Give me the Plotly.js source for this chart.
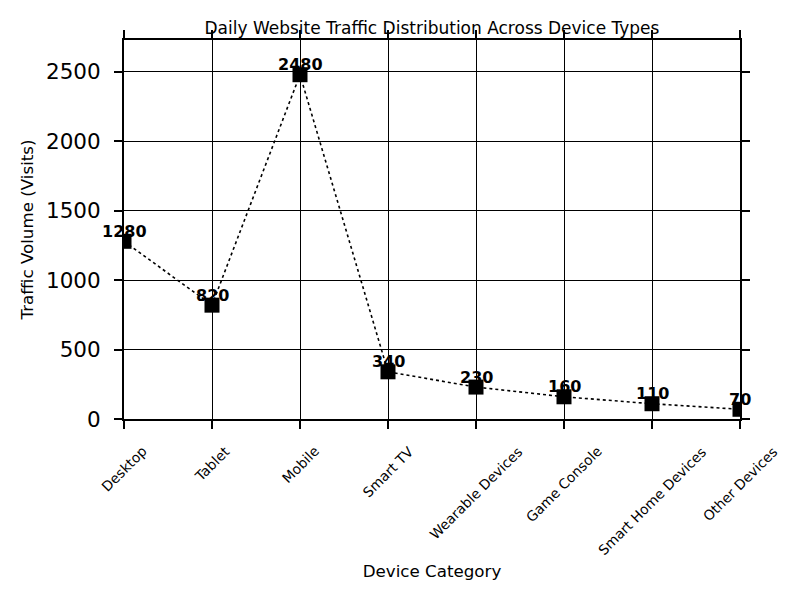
<!DOCTYPE html>
<html>
<head>
<meta charset="utf-8">
<script src="https://cdn.plot.ly/plotly-3.0.1.min.js"></script>
<style>html,body{margin:0;padding:0;background:#fff;}#chart{width:800px;height:600px;}</style>
</head>
<body>
<div id="chart"></div>
<script>
const categories = ["Desktop", "Tablet", "Mobile", "Smart TV", "Wearable Devices", "Game Console", "Smart Home Devices", "Other Devices"];
const visits = [1280, 820, 2480, 340, 230, 160, 110, 70];
const yTicks = [0, 500, 1000, 1500, 2000, 2500];

const FONT = "DejaVu Sans, Verdana, sans-serif";

const trace = {
  type: "scatter",
  mode: "lines+markers",
  x: categories,
  y: visits,
  line: {color: "#000", width: 1.6, dash: "dot"},
  marker: {symbol: "square", size: 15, color: "#000"},
  cliponaxis: true,
  hoverinfo: "skip"
};

const valueLabels = categories.map((c, i) => ({
  x: c, y: visits[i], xref: "x", yref: "y",
  text: "<b>" + visits[i] + "</b>",
  showarrow: false, yanchor: "middle", xanchor: "center", yshift: 10,
  font: {family: FONT, size: 16, color: "#000"}
}));

const catLabels = categories.map((c) => ({
  x: c, y: 0, xref: "x", yref: "paper",
  text: c, textangle: -45,
  showarrow: false, xanchor: "center", yanchor: "top", yshift: -23,
  borderpad: 0,
  font: {family: FONT, size: 13.8, color: "#000"}
}));

const layout = {
  width: 800, height: 600,
  margin: {l: 124, r: 60, t: 40, b: 181},
  paper_bgcolor: "#fff", plot_bgcolor: "#fff",
  showlegend: false,
  font: {family: FONT, color: "#000"},
  title: {
    text: "Daily Website Traffic Distribution Across Device Types",
    font: {family: FONT, size: 17, color: "#000"},
    x: 0.5, xref: "paper", xanchor: "center",
    y: 1 - 28 / 600, yref: "container", yanchor: "middle"
  },
  xaxis: {
    type: "category",
    categoryorder: "array", categoryarray: categories,
    range: [0, 7],
    showgrid: true, gridcolor: "#000", gridwidth: 1,
    showline: true, linecolor: "#000", linewidth: 2, mirror: "ticks",
    ticks: "outside", ticklen: 8, tickwidth: 2, tickcolor: "#000",
    showticklabels: false,
    zeroline: false,
    title: {text: "Device Category", font: {family: FONT, size: 16.7, color: "#000"}, standoff: 137},
    automargin: false
  },
  yaxis: {
    range: [0, 2730],
    tickvals: yTicks,
    ticktext: yTicks.map(String),
    showgrid: true, gridcolor: "#000", gridwidth: 1,
    showline: true, linecolor: "#000", linewidth: 2, mirror: "ticks",
    ticks: "outside", ticklen: 8, tickwidth: 2, tickcolor: "#000",
    tickfont: {family: FONT, size: 21.5, color: "#000"},
    ticklabelstandoff: 9,
    zeroline: false,
    title: {text: "Traffic Volume (Visits)", font: {family: FONT, size: 16.7, color: "#000"}, standoff: 8},
    automargin: false
  },
  annotations: valueLabels.concat(catLabels)
};

Plotly.newPlot("chart", [trace], layout, {staticPlot: true, displayModeBar: false});
</script>
</body>
</html>
